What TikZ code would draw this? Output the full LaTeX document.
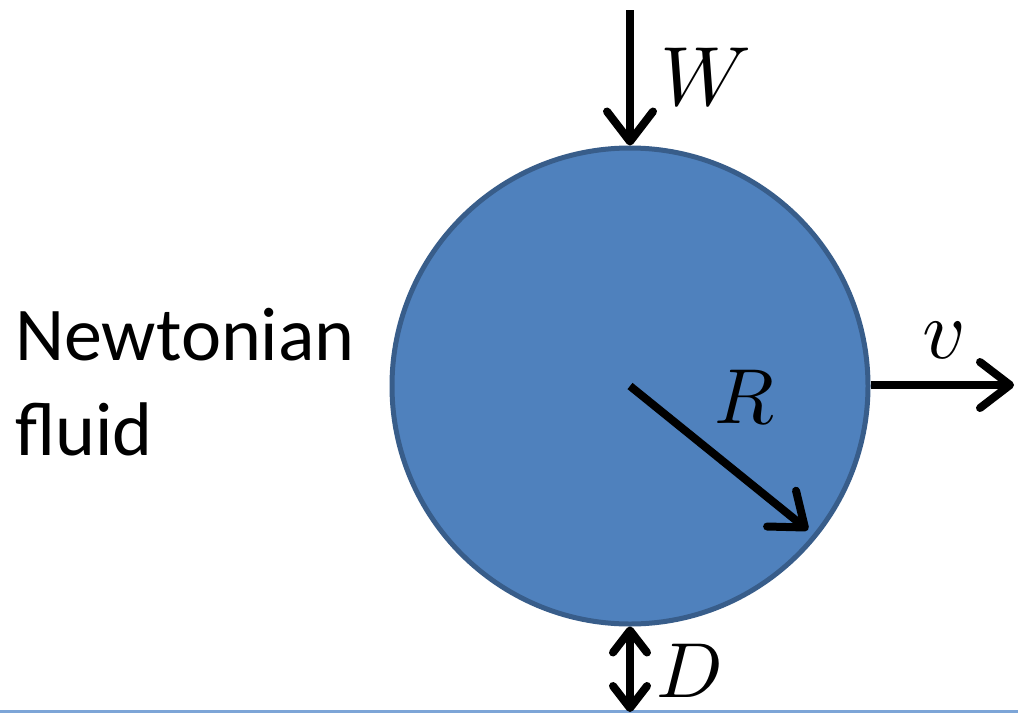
\documentclass[tikz,border=0pt]{standalone}
\usepackage{graphicx}
\usepackage{fontspec}
\setmainfont{Carlito}
\usetikzlibrary{arrows.meta}
\definecolor{ballfill}{RGB}{79,129,189}
\definecolor{balledge}{RGB}{56,93,138}
\definecolor{rulecol}{RGB}{125,165,215}
\newcommand{\bigsym}[2][8.4]{\scalebox{#1}{$#2$}}
\tikzset{
  force/.style={line width=8pt,-{Straight Barb[length=30pt,width=46pt,line cap=round,line join=round]}},
  gap/.style={line width=8pt,{Straight Barb[length=22pt,width=34pt,line cap=round,line join=round]}-{Straight Barb[length=22pt,width=34pt,line cap=round,line join=round]}},
  sym/.style={font=\fontsize{10}{12}\selectfont, inner sep=0pt, anchor=base west},
  txt/.style={font=\fontsize{76}{95}\selectfont, inner sep=0pt, anchor=base west}
}
\begin{document}
\begin{tikzpicture}[x=1pt,y=-1pt]
\useasboundingbox (0,0) rectangle (1018,713);
\fill[white] (0,0) rectangle (1018,713);
\draw[rulecol, line width=3pt] (0,711) -- (1018,711);
\node[circle, fill=ballfill, draw=balledge, line width=5pt, minimum size=476pt, inner sep=0pt] (ball) at (630,386) {};
\coordinate (c) at (630,386);
\coordinate (wtop) at (630,10);
\coordinate (rtip) at (808,530);
\coordinate (vtip) at (1014,385);
\coordinate (dbot) at (630,712);
\draw[force] (wtop) -- (ball.north);
\draw[force] (c) -- (rtip);
\draw[force] (ball.east |- vtip) -- (vtip);
\draw[gap] (ball.south) -- (dbot);
\node[sym] (W) at (660,105) {\bigsym{W}};
\node[sym] (R) at (714,423) {\bigsym[7.8]{R}};
\node[sym] (v) at (922,358) {\bigsym{v}};
\node[sym] (D) at (656,697) {\bigsym[7.8]{D}};
\node[txt] (n1) at (15,360) {Newtonian};
\node[txt] (n2) at (15,455) {fluid};
\end{tikzpicture}
\end{document}
